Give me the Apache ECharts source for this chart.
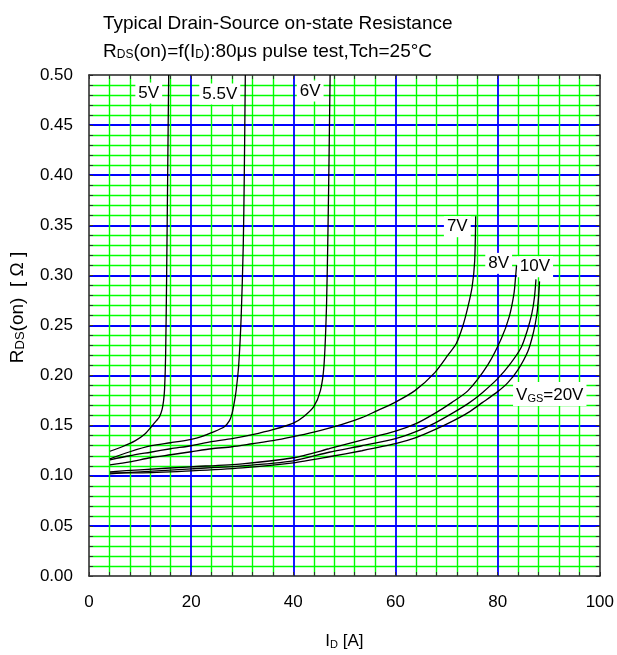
<!DOCTYPE html>
<html><head><meta charset="utf-8">
<script src="https://cdn.jsdelivr.net/npm/echarts@6/dist/echarts.min.js"></script>
<style>html,body{margin:0;padding:0;background:#fff}#c{width:617px;height:655px}</style>
</head><body><div id="c"></div>
<script>
// ---- data (ID [A], RDS(on) [Ohm]) ----
const vgs5V  = [[4.1,0.1245],[6.5,0.129],[9,0.1348],[11,0.142],[12.2,0.149],[13.2,0.155],[13.8,0.159],[14.3,0.166],[14.6,0.175],[14.8,0.187],[15.0,0.22],[15.2,0.30],[15.4,0.40],[15.6,0.50]];
const vgs55V = [[4.1,0.117],[8,0.124],[12.2,0.130],[16,0.133],[20,0.1364],[22,0.139],[24,0.143],[26.5,0.149],[27.5,0.155],[28,0.162],[28.4,0.172],[28.8,0.185],[29.3,0.21],[29.8,0.26],[30.2,0.33],[30.4,0.40],[30.6,0.50]];
const vgs6V  = [[4.1,0.116],[8,0.120],[12,0.1235],[16,0.127],[20,0.130],[24,0.134],[28,0.137],[32,0.141],[36,0.146],[40,0.1526],[42,0.159],[44,0.169],[45.3,0.185],[46,0.21],[46.5,0.27],[46.8,0.35],[47,0.42],[47.2,0.50]];
const vgs7V  = [[4.1,0.111],[8,0.114],[12,0.118],[16,0.121],[20,0.124],[24,0.127],[28,0.129],[32,0.132],[36,0.135],[40,0.139],[44,0.1435],[47,0.1475],[50,0.152],[53.4,0.158],[56,0.164],[60,0.1736],[63.8,0.185],[67.7,0.203],[70.3,0.2206],[71.9,0.232],[73.2,0.2497],[74.2,0.269],[75,0.2886],[75.5,0.314],[75.7,0.359]];
const vgs8V  = [[4.1,0.104],[10,0.106],[20,0.109],[30,0.112],[40,0.118],[47,0.127],[53.4,0.1357],[60,0.1445],[64,0.152],[67.7,0.1623],[71,0.173],[74.2,0.185],[78.1,0.211],[80.7,0.2367],[82.3,0.2594],[83.2,0.282],[83.5,0.298],[83.7,0.310]];
const vgs10V = [[4.1,0.102],[10,0.104],[20,0.107],[30,0.110],[40,0.115],[47,0.1235],[53.4,0.130],[60,0.137],[64,0.144],[67.7,0.1526],[71,0.162],[74.2,0.172],[77,0.183],[80,0.197],[82.5,0.212],[84.6,0.228],[85.8,0.245],[86.7,0.262],[87.2,0.278],[87.5,0.296]];
const vgs20V = [[4.1,0.103],[10,0.103],[20,0.105],[30,0.108],[40,0.113],[47,0.119],[53.4,0.125],[60,0.132],[64,0.138],[67.7,0.146],[71,0.154],[74.2,0.163],[77,0.173],[80,0.184],[82,0.193],[84,0.206],[85.9,0.224],[87,0.243],[87.7,0.262],[88,0.278],[88.2,0.294]];

const curveNames = ['5V','5.5V','6V','7V','8V','10V','20V'];
const curveLabels = ['5V','5.5V','6V','7V','8V','10V','{b|V}{s|GS}{b|=20V}'];
const labelCoords = [[11.7,0.482],[25.6,0.481],[43.3,0.484],[72.1,0.3486],[80.2,0.312],[87.3,0.3087],[90.2,0.1816]];

const xTickLabels = ['0','20','40','60','80','100'];
const yTickLabels = ['0.00','0.05','0.10','0.15','0.20','0.25','0.30','0.35','0.40','0.45','0.50'];

// ---- chart ----
const FONT = 'Liberation Sans, Arial, sans-serif';
const curves = [vgs5V, vgs55V, vgs6V, vgs7V, vgs8V, vgs10V, vgs20V];
const chart = echarts.init(document.getElementById('c'), null, {renderer:'canvas'});

const richSub = {
  b:{fontSize:17, fontFamily:FONT, fontWeight:'normal', color:'#000', verticalAlign:'bottom', lineHeight:20},
  s:{fontSize:11, fontFamily:FONT, fontWeight:'normal', color:'#000', verticalAlign:'bottom', lineHeight:18}
};
const richName = {
  b:{fontSize:19, fontFamily:FONT, fontWeight:'normal', color:'#000', verticalAlign:'bottom', lineHeight:22},
  s:{fontSize:13, fontFamily:FONT, fontWeight:'normal', color:'#000', verticalAlign:'bottom', lineHeight:20}
};

const axisBase = {
  axisLine:{show:true, onZero:false, lineStyle:{color:'#222', width:1.5}},
  axisTick:{show:true, inside:true, length:4, lineStyle:{color:'#333'}},
  minorTick:{show:true, splitNumber:5, length:4, lineStyle:{color:'#333'}},
  minorSplitLine:{show:false},
  splitLine:{show:false}
};
const majorLine = {show:true, showMinLine:false, showMaxLine:false, lineStyle:{color:'#0000ff', width:1.8, opacity:1}};
const minorLine = {show:true, lineStyle:{color:'#00ff00', width:1.4, opacity:1}};

chart.setOption({
  animation:false,
  backgroundColor:'#fff',
  title:{
    left:98, top:0,
    text:'{t|Typical Drain-Source on-state Resistance}\n{t|R}{ts|DS}{t|(on)=f(I}{ts|D}{t|):80μs pulse test,Tch=25°C}',
    textStyle:{
      fontWeight:'normal',
      rich:{
        t:{fontSize:19, fontFamily:FONT, fontWeight:'normal', color:'#000', verticalAlign:'bottom', lineHeight:28},
        ts:{fontSize:12, fontFamily:FONT, fontWeight:'normal', color:'#000', verticalAlign:'bottom', lineHeight:25}
      }
    }
  },
  grid:{left:89, right:14, top:75, bottom:65, show:false},
  xAxis:[
    Object.assign({}, axisBase, {
      type:'value', min:0, max:100, interval:20, position:'bottom', z:1,
      axisLabel:{show:true, margin:18, fontSize:17, fontFamily:FONT, color:'#000',
        formatter:(v)=>xTickLabels[Math.round(v/20)]},
      splitLine:majorLine,
      minorSplitLine:minorLine,
      name:'{b|I}{s|D}{b| [A]}', nameLocation:'middle', nameGap:54,
      nameTextStyle:{rich:richSub}
    }),
    Object.assign({}, axisBase, {
      type:'value', min:0, max:100, interval:20, position:'top', z:3,
      axisLabel:{show:false}
    })
  ],
  yAxis:[
    Object.assign({}, axisBase, {
      type:'value', min:0, max:0.5, interval:0.05, position:'left', z:1,
      axisLabel:{show:true, margin:16, fontSize:17, fontFamily:FONT, color:'#000',
        formatter:(v)=>yTickLabels[Math.round(v/0.05)]},
      splitLine:majorLine,
      minorSplitLine:minorLine,
      name:'{b|R}{s|DS}{b|(on)  [ Ω ]}', nameLocation:'middle', nameGap:62,
      nameTextStyle:{rich:richName, padding:[0,0,0,36]}
    }),
    Object.assign({}, axisBase, {
      type:'value', min:0, max:0.5, interval:0.05, position:'right', z:3,
      axisLabel:{show:false}
    })
  ],
  series: curves.map((d,i)=>({
    type:'line', name:curveNames[i], data:d, xAxisIndex:0, yAxisIndex:0,
    symbol:'none', showSymbol:false, smooth:0.25, silent:true, z:5,
    lineStyle:{color:'#000', width:1.3},
    markPoint:{
      symbol:'rect', symbolSize:0, silent:true,
      data:[{coord:labelCoords[i], value:curveNames[i]}],
      label:{show:true, position:'inside', formatter:curveLabels[i],
        backgroundColor:'#fff', padding:[2,3], color:'#000', fontSize:17, fontFamily:FONT,
        rich:richSub}
    }
  }))
});
</script></body></html>
